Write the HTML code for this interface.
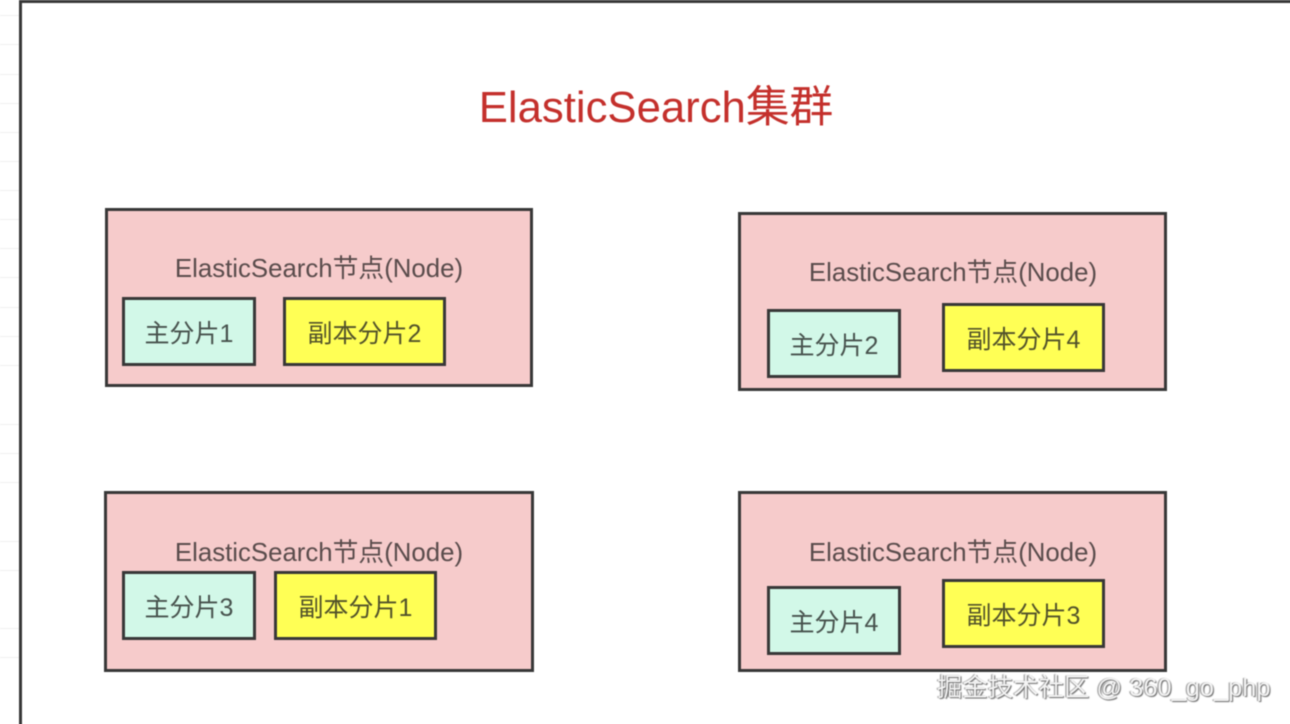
<!DOCTYPE html>
<html><head><meta charset="utf-8"><style>
html,body{margin:0;padding:0;background:#fff}
#c{position:relative;width:1290px;height:724px;overflow:hidden;background:#fff;font-family:"Liberation Sans","Noto Sans CJK SC",sans-serif;color:#4a4040}
#c div{position:absolute;box-sizing:border-box}
#d{left:0;top:0;width:1290px;height:724px;filter:blur(.4px)}
.l{left:0;width:19px;height:1px;background:#f0f0f0}
.n{background:#f6cbcb;border:3px solid #383838}
.p,.r{border:3px solid #383838;display:flex;align-items:center;justify-content:center;font-size:25px;white-space:nowrap}
.p{background:#d2f8e8;color:#47524d}
.r{background:#ffff55;color:#52522a}
.t{font-size:25.8px;white-space:nowrap;text-align:center;width:340px;line-height:30px;color:#5a4c4c}
</style></head><body><div id="c"><div id="d">
<div class="l" style="top:15px"></div><div class="l" style="top:44px"></div><div class="l" style="top:74px"></div><div class="l" style="top:103px"></div><div class="l" style="top:132px"></div><div class="l" style="top:161px"></div><div class="l" style="top:190px"></div><div class="l" style="top:219px"></div><div class="l" style="top:248px"></div><div class="l" style="top:277px"></div><div class="l" style="top:307px"></div><div class="l" style="top:336px"></div><div class="l" style="top:365px"></div><div class="l" style="top:424px"></div><div class="l" style="top:453px"></div><div class="l" style="top:482px"></div><div class="l" style="top:541px"></div><div class="l" style="top:570px"></div><div class="l" style="top:628px"></div><div class="l" style="top:657px"></div>
<div style="left:19px;top:0;width:1300px;height:760px;border:3px solid #383838;background:#fff"></div>
<div style="left:456px;top:80px;width:400px;text-align:center;font-size:43.7px;line-height:56px;color:#c4302c;white-space:nowrap">ElasticSearch集群</div>

<div class="n" style="left:105px;top:208px;width:428px;height:179px"></div>
<div class="t" style="left:149px;top:254px">ElasticSearch节点(Node)</div>
<div class="p" style="left:122px;top:297px;width:134px;height:69px">主分片1</div>
<div class="r" style="left:283px;top:297px;width:163px;height:69px">副本分片2</div>

<div class="n" style="left:738px;top:212px;width:429px;height:179px"></div>
<div class="t" style="left:783px;top:258px">ElasticSearch节点(Node)</div>
<div class="p" style="left:767px;top:309px;width:134px;height:69px">主分片2</div>
<div class="r" style="left:942px;top:303px;width:163px;height:69px">副本分片4</div>

<div class="n" style="left:104px;top:491px;width:430px;height:181px"></div>
<div class="t" style="left:149px;top:538px">ElasticSearch节点(Node)</div>
<div class="p" style="left:122px;top:571px;width:134px;height:69px">主分片3</div>
<div class="r" style="left:274px;top:571px;width:163px;height:69px">副本分片1</div>

<div class="n" style="left:738px;top:491px;width:429px;height:181px"></div>
<div class="t" style="left:783px;top:538px">ElasticSearch节点(Node)</div>
<div class="p" style="left:767px;top:586px;width:134px;height:69px">主分片4</div>
<div class="r" style="left:942px;top:579px;width:163px;height:69px">副本分片3</div>

<div style="left:937px;top:672px;width:340px;font-size:25.4px;line-height:32px;color:#f4f4f4;white-space:nowrap;text-shadow:1px 1px 1px #666,-1px 0 1px #888">掘金技术社区 @ 360_go_php</div>
</div></div></body></html>
